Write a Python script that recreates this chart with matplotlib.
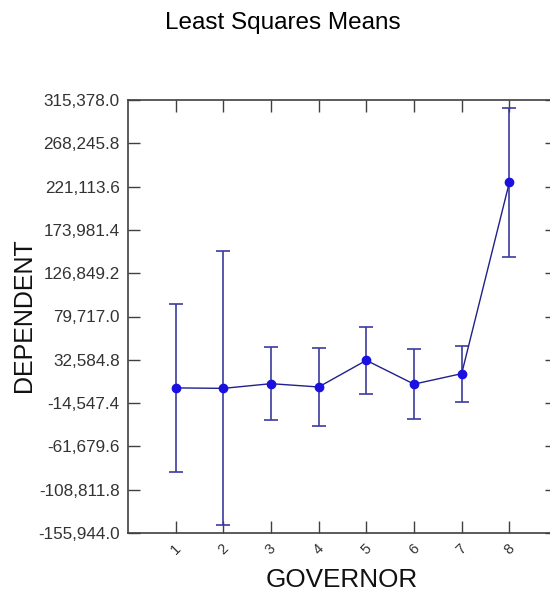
import matplotlib
matplotlib.use("Agg")
import matplotlib.pyplot as plt

# data
governor = [1, 2, 3, 4, 5, 6, 7, 8]
means = [2000, 1500, 6600, 3000, 32000, 6100, 17500, 225600]
half_ci = [91600, 149100, 39900, 42100, 36300, 37900, 30500, 81400]
y_ticks = [-155944.0, -108811.8, -61679.6, -14547.4, 32584.8, 79717.0,
           126849.2, 173981.4, 221113.6, 268245.8, 315378.0]

plt.rcParams['font.family'] = ['Liberation Sans', 'DejaVu Sans']

fig = plt.figure(figsize=(5.5, 5.91), dpi=100)
ax = fig.add_axes([128 / 550, 58 / 591, 429 / 550, 433 / 591])

# error bars
ax.errorbar(governor, means, yerr=half_ci, fmt='none', ecolor='#3c3ca0',
            elinewidth=1.2, capsize=5, capthick=1.2, zorder=2)
# connecting line and points
ax.plot(governor, means, color='#20208a', linewidth=1.0, zorder=3)
ax.plot(governor, means, 'o', color='#1a10e0', markersize=6, zorder=4)

ax.set_xlim(0, 9)
ax.set_ylim(y_ticks[0], y_ticks[-1])
ax.set_xticks(governor)
ax.set_xticklabels([str(g) for g in governor], rotation=45, fontsize=10.5,
                   color='#333333', ha='center', va='center')
ax.set_yticks(y_ticks)
ax.set_yticklabels(['{:,.1f}'.format(v) for v in y_ticks], fontsize=12.3,
                   color='#333333')

ax.tick_params(axis='both', direction='in', length=8.5, width=1.0,
               color='#404040', top=True, right=True)
ax.tick_params(axis='x', pad=12)
ax.tick_params(axis='y', pad=6)

for side in ['left', 'bottom', 'top', 'right']:
    ax.spines[side].set_color('#404040')
    ax.spines[side].set_linewidth(1.2)

fig.text(283 / 550, 1 - 23 / 591, 'Least Squares Means', fontsize=17.5,
         ha='center', va='center', color='#000000')
fig.text(24 / 550, 1 - 315 / 591, 'DEPENDENT', fontsize=18, rotation=90,
         ha='center', va='center', color='#111111')
fig.text(342 / 550, 1 - 580 / 591, 'GOVERNOR', fontsize=18.8,
         ha='center', va='center', color='#111111')

plt.savefig('out.png', dpi=100)
